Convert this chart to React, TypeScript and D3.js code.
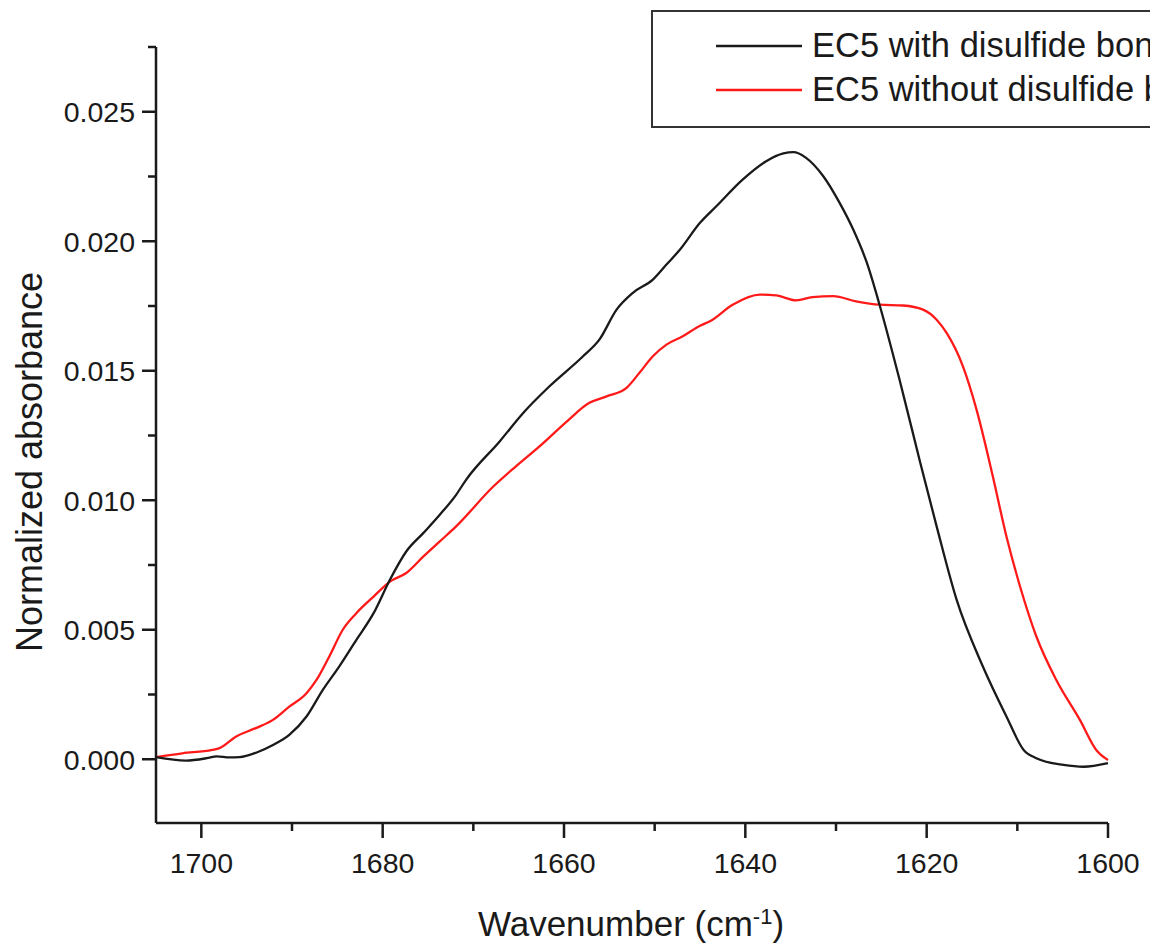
import React from "react";
import * as d3 from "d3";

const withWn = [1705.0, 1701.7, 1699.4, 1698.3, 1696.9, 1695.8, 1693.9, 1692.1, 1690.3, 1688.4, 1686.6, 1684.8, 1682.9, 1681.0, 1679.2, 1677.4, 1675.5, 1673.7, 1671.9, 1670.8, 1667.1, 1664.5, 1661.6, 1657.9, 1656.1, 1654.2, 1652.4, 1650.2, 1648.7, 1647.2, 1645.0, 1643.2, 1640.3, 1637.7, 1635.8, 1634.7, 1633.3, 1631.4, 1629.6, 1628.1, 1626.6, 1625.2, 1622.9, 1620.7, 1618.9, 1616.7, 1613.8, 1611.2, 1609.3, 1607.9, 1604.9, 1602.7, 1600.0];
const withAbs = [0.00008, -0.00005, 0.00004, 0.00011, 0.00007, 0.00008, 0.00026, 0.00055, 0.00094, 0.00165, 0.00268, 0.00358, 0.00461, 0.00564, 0.00693, 0.00802, 0.00874, 0.00944, 0.01021, 0.01079, 0.01227, 0.01337, 0.0144, 0.01556, 0.0162, 0.01736, 0.01801, 0.01852, 0.0191, 0.01968, 0.02071, 0.02135, 0.02238, 0.02309, 0.02339, 0.02344, 0.02322, 0.02251, 0.02148, 0.02045, 0.01917, 0.01755, 0.01453, 0.01144, 0.00899, 0.00616, 0.00358, 0.00165, 0.00036, 0.00004, -0.00022, -0.00029, -0.00015];

const withoutWn = [1705.0, 1702.1, 1698.8, 1698.0, 1696.2, 1694.0, 1692.1, 1690.3, 1688.4, 1687.3, 1685.9, 1684.4, 1682.9, 1681.0, 1679.2, 1677.4, 1675.5, 1673.7, 1671.9, 1667.8, 1665.3, 1662.7, 1659.7, 1657.2, 1655.3, 1653.1, 1651.7, 1650.2, 1648.7, 1646.9, 1645.0, 1643.9, 1641.4, 1638.4, 1636.6, 1634.4, 1632.6, 1630.3, 1627.8, 1625.2, 1622.6, 1620.4, 1618.9, 1617.8, 1616.0, 1614.5, 1612.7, 1611.2, 1609.7, 1607.9, 1605.7, 1603.1, 1601.3, 1600.0];
const withoutAbs = [0.00008, 0.00023, 0.00036, 0.00043, 0.00087, 0.0012, 0.00152, 0.00203, 0.00255, 0.00306, 0.00396, 0.005, 0.00564, 0.00628, 0.00686, 0.00719, 0.00783, 0.00841, 0.00899, 0.01053, 0.01131, 0.01208, 0.01304, 0.01376, 0.01401, 0.01434, 0.01491, 0.01556, 0.01601, 0.01633, 0.01674, 0.01691, 0.01755, 0.01794, 0.01791, 0.01772, 0.01784, 0.01788, 0.01768, 0.01755, 0.01752, 0.01736, 0.01697, 0.01646, 0.01517, 0.0135, 0.01092, 0.0086, 0.00667, 0.00474, 0.00306, 0.00152, 0.00036, -0.00003];

const seriesNames = ["EC5 with disulfide bond", "EC5 without disulfide bond"];
const seriesColors = ["#1a1a1a", "#ff1a1a"];

const xMajorTicks = [1700, 1680, 1660, 1640, 1620, 1600];
const xMinorTicks = [1690, 1670, 1650, 1630, 1610];
const yMajorTicks = [0.0, 0.005, 0.01, 0.015, 0.02, 0.025];
const yMinorTicks = [0.0025, 0.0075, 0.0125, 0.0175, 0.0225, 0.0275];

const FONT = "'Liberation Sans', Arial, Helvetica, sans-serif";

export default function App() {
  const W = 1150;
  const H = 948;
  const x = d3.scaleLinear().domain([1705, 1600]).range([156, 1108]);
  const y = d3.scaleLinear().domain([-0.0025, 0.0275]).range([824, 47]);
  const axisY = 823;
  const axisX = 156;

  const line = d3
    .line<[number, number]>()
    .x((d) => x(d[0]))
    .y((d) => y(d[1]))
    .curve(d3.curveMonotoneX);

  const s1: [number, number][] = withWn.map((w, i) => [w, withAbs[i]]);
  const s2: [number, number][] = withoutWn.map((w, i) => [w, withoutAbs[i]]);

  const fmt = d3.format(".3f");

  return (
    <svg
      width={W}
      height={H}
      style={{ position: "absolute", left: 0, top: 0, display: "block", background: "#fff" }}
      fontFamily={FONT}
    >
      <rect x={0} y={0} width={W} height={H} fill="#fff" />
      {/* curves */}
      <path d={line(s2) || ""} fill="none" stroke={seriesColors[1]} strokeWidth={2.3} />
      <path d={line(s1) || ""} fill="none" stroke={seriesColors[0]} strokeWidth={2.3} />

      {/* axes */}
      <g stroke="#1a1a1a" strokeWidth={2.5} fill="none">
        <line x1={axisX} x2={axisX} y1={y(0.0275)} y2={axisY} />
        <line x1={axisX} x2={x(1600)} y1={axisY} y2={axisY} />
        {yMajorTicks.map((t) => (
          <line key={"ym" + t} x1={axisX - 14} x2={axisX} y1={y(t)} y2={y(t)} />
        ))}
        {yMinorTicks.map((t) => (
          <line key={"yn" + t} x1={axisX - 8} x2={axisX} y1={y(t)} y2={y(t)} />
        ))}
        {xMajorTicks.map((t) => (
          <line key={"xm" + t} x1={x(t)} x2={x(t)} y1={axisY} y2={axisY + 15} />
        ))}
        {xMinorTicks.map((t) => (
          <line key={"xn" + t} x1={x(t)} x2={x(t)} y1={axisY} y2={axisY + 8} />
        ))}
      </g>

      {/* tick labels */}
      <g fill="#1a1a1a" fontSize={28.5}>
        {yMajorTicks.map((t) => (
          <text key={"yl" + t} x={135} y={y(t)} dy="0.36em" textAnchor="end">
            {fmt(t)}
          </text>
        ))}
        {xMajorTicks.map((t) => (
          <text key={"xl" + t} x={x(t)} y={873} textAnchor="middle">
            {t}
          </text>
        ))}
      </g>

      {/* axis titles */}
      <text x={631} y={936} textAnchor="middle" fontSize={35} fill="#1a1a1a">
        Wavenumber (cm
        <tspan baselineShift="super" fontSize={22}>-1</tspan>
        )
      </text>
      <text
        transform={`translate(42, 462) rotate(-90)`}
        textAnchor="middle"
        fontSize={36}
        fill="#1a1a1a"
      >
        Normalized absorbance
      </text>

      {/* legend */}
      <rect x={652} y={11} width={520} height={116} fill="#fff" stroke="#333" strokeWidth={2} />
      {seriesNames.map((name, i) => (
        <g key={name}>
          <line x1={716} x2={802} y1={46 + i * 44} y2={46 + i * 44} stroke={seriesColors[i]} strokeWidth={2.3} />
          <text x={812} y={57 + i * 44} fontSize={34.5} fill="#1a1a1a">
            {name}
          </text>
        </g>
      ))}
    </svg>
  );
}
